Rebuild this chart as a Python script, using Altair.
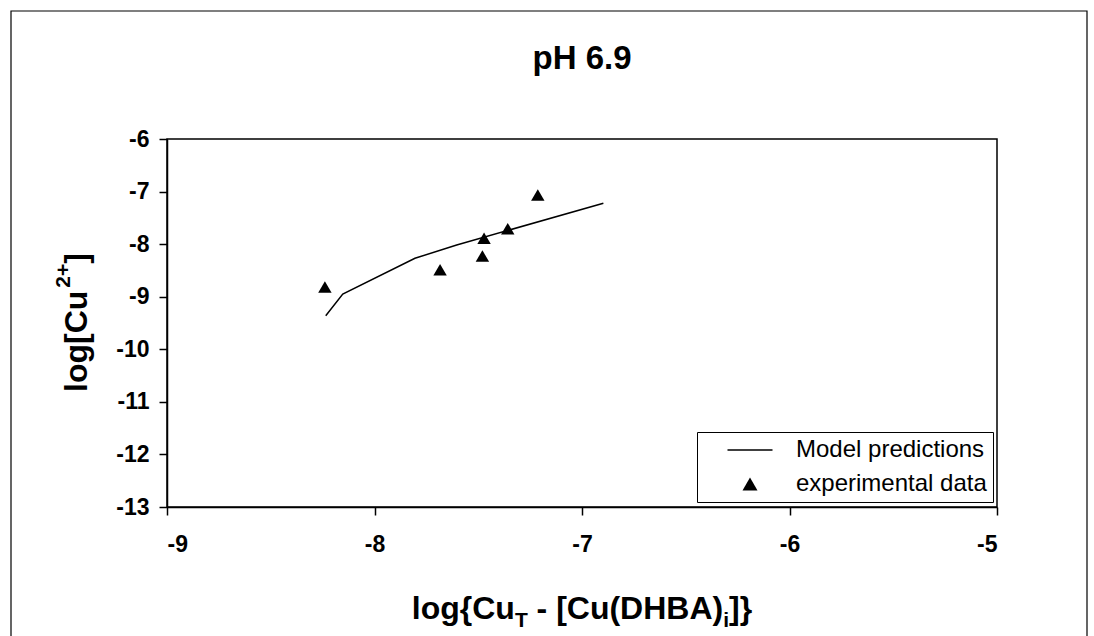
import altair as alt
import pandas as pd

# ---- data ----
model_x = [-8.235, -8.153, -7.805, -7.604, -6.897]
model_y = [-9.361, -8.948, -8.269, -8.016, -7.223]

exp_x = [-8.239, -7.684, -7.480, -7.472, -7.358, -7.213]
exp_y = [-8.815, -8.486, -8.226, -7.889, -7.706, -7.065]

series_names = ["Model predictions", "experimental data"]
x_ticks = [-9, -8, -7, -6, -5]
y_ticks = [-6, -7, -8, -9, -10, -11, -12, -13]

chart_title = "pH 6.9"
x_title_parts = ["log{Cu", "T", "- [Cu(DHBA)", "i", "]}"]
y_title_parts = ["log[Cu", "2+", "]"]

FONT = "Liberation Sans"

model_df = pd.DataFrame({"x": model_x, "y": model_y, "series": series_names[0]})
exp_df = pd.DataFrame({"x": exp_x, "y": exp_y, "series": series_names[1]})

xs = alt.Scale(domain=[-9, -5], nice=False, zero=False)
ys = alt.Scale(domain=[-13, -6], nice=False, zero=False)

x_axis = alt.Axis(values=x_ticks, title=None, labelExpr="'' + datum.value",
                  labelPadding=18)
y_axis = alt.Axis(values=y_ticks, title=None, labelExpr="'' + datum.value",
                  labelPadding=10)

# outer frame of the figure (decoration)
frame = alt.Chart(pd.DataFrame({"k": [0]})).mark_rect(
    filled=False, stroke="black", strokeWidth=1.2, fill=None
).encode(x=alt.value(-156), x2=alt.value(920), y=alt.value(-128), y2=alt.value(540))

line = alt.Chart(model_df).mark_line(color="black", strokeWidth=1.5).encode(
    x=alt.X("x:Q", scale=xs, axis=x_axis),
    y=alt.Y("y:Q", scale=ys, axis=y_axis),
)

# legend symbol for the model line: a thin filled bar 45 px long
line_symbol = "M-3,-0.1H3V0.1H-3Z"

points = alt.Chart(exp_df).mark_point(filled=True, color="black", size=180, opacity=1).encode(
    x=alt.X("x:Q", scale=xs, axis=x_axis),
    y=alt.Y("y:Q", scale=ys, axis=y_axis),
    shape=alt.Shape(
        "series:N",
        scale=alt.Scale(domain=series_names, range=[line_symbol, "triangle-up"]),
        legend=alt.Legend(
            title=None, orient="none", legendX=530, legendY=293,
            direction="vertical", fillColor="white", strokeColor="black",
            padding=6, symbolOffset=35, labelOffset=34, rowPadding=10,
            symbolSize=225, symbolStrokeColor="black", symbolFillColor="black",
            symbolStrokeWidth=0.5, labelFont=FONT, labelFontSize=24,
            labelColor="black", labelLimit=400,
        ),
    ),
)

# chart title as a text mark (kept clear of the outer frame)
title_layer = alt.Chart(pd.DataFrame({"t": [chart_title]})).mark_text(
    align="center", baseline="alphabetic", font=FONT, fontSize=33,
    fontWeight="bold", color="black"
).encode(x=alt.value(415), y=alt.value(-70), text="t:N")

# axis titles with sub/superscripts as text pieces
F, FS = 32, 21
xt = [244.8, 347.9, 369.6, 556.2, 562.0]
xb = [479.5, 487.5, 479.5, 487.5, 479.5]
x_title_layers = []
for i, part in enumerate(x_title_parts):
    small = i in (1, 3)
    x_title_layers.append(
        alt.Chart(pd.DataFrame({"t": [part]})).mark_text(
            align="left", baseline="alphabetic", font=FONT,
            fontSize=FS if small else F, fontWeight="bold", color="black"
        ).encode(x=alt.value(xt[i]), y=alt.value(xb[i]), text="t:N")
    )

yt = [253, 148.7, 124.8]
yb = [-80.5, -97, -80.5]
y_title_layers = []
for i, part in enumerate(y_title_parts):
    small = i == 1
    y_title_layers.append(
        alt.Chart(pd.DataFrame({"t": [part]})).mark_text(
            align="left", baseline="alphabetic", font=FONT, angle=270,
            fontSize=FS if small else F, fontWeight="bold", color="black"
        ).encode(x=alt.value(yb[i]), y=alt.value(yt[i]), text="t:N")
    )

chart = alt.layer(frame, line, points, title_layer, *x_title_layers, *y_title_layers).properties(
    width=830, height=368,
    autosize=alt.AutoSizeParams(type="none"),
    padding={"left": 167, "top": 139, "right": 97, "bottom": 129},
    background="white",
).configure_view(stroke="black", strokeWidth=1.5).configure_axis(
    grid=False, domainColor="black", domainWidth=1.5, tickColor="black",
    tickSize=8, tickWidth=1.5, labelFont=FONT, labelFontSize=23,
    labelFontWeight="bold", labelColor="black",
)

chart.save("out.html", embed_options={"renderer": "svg", "actions": False})
